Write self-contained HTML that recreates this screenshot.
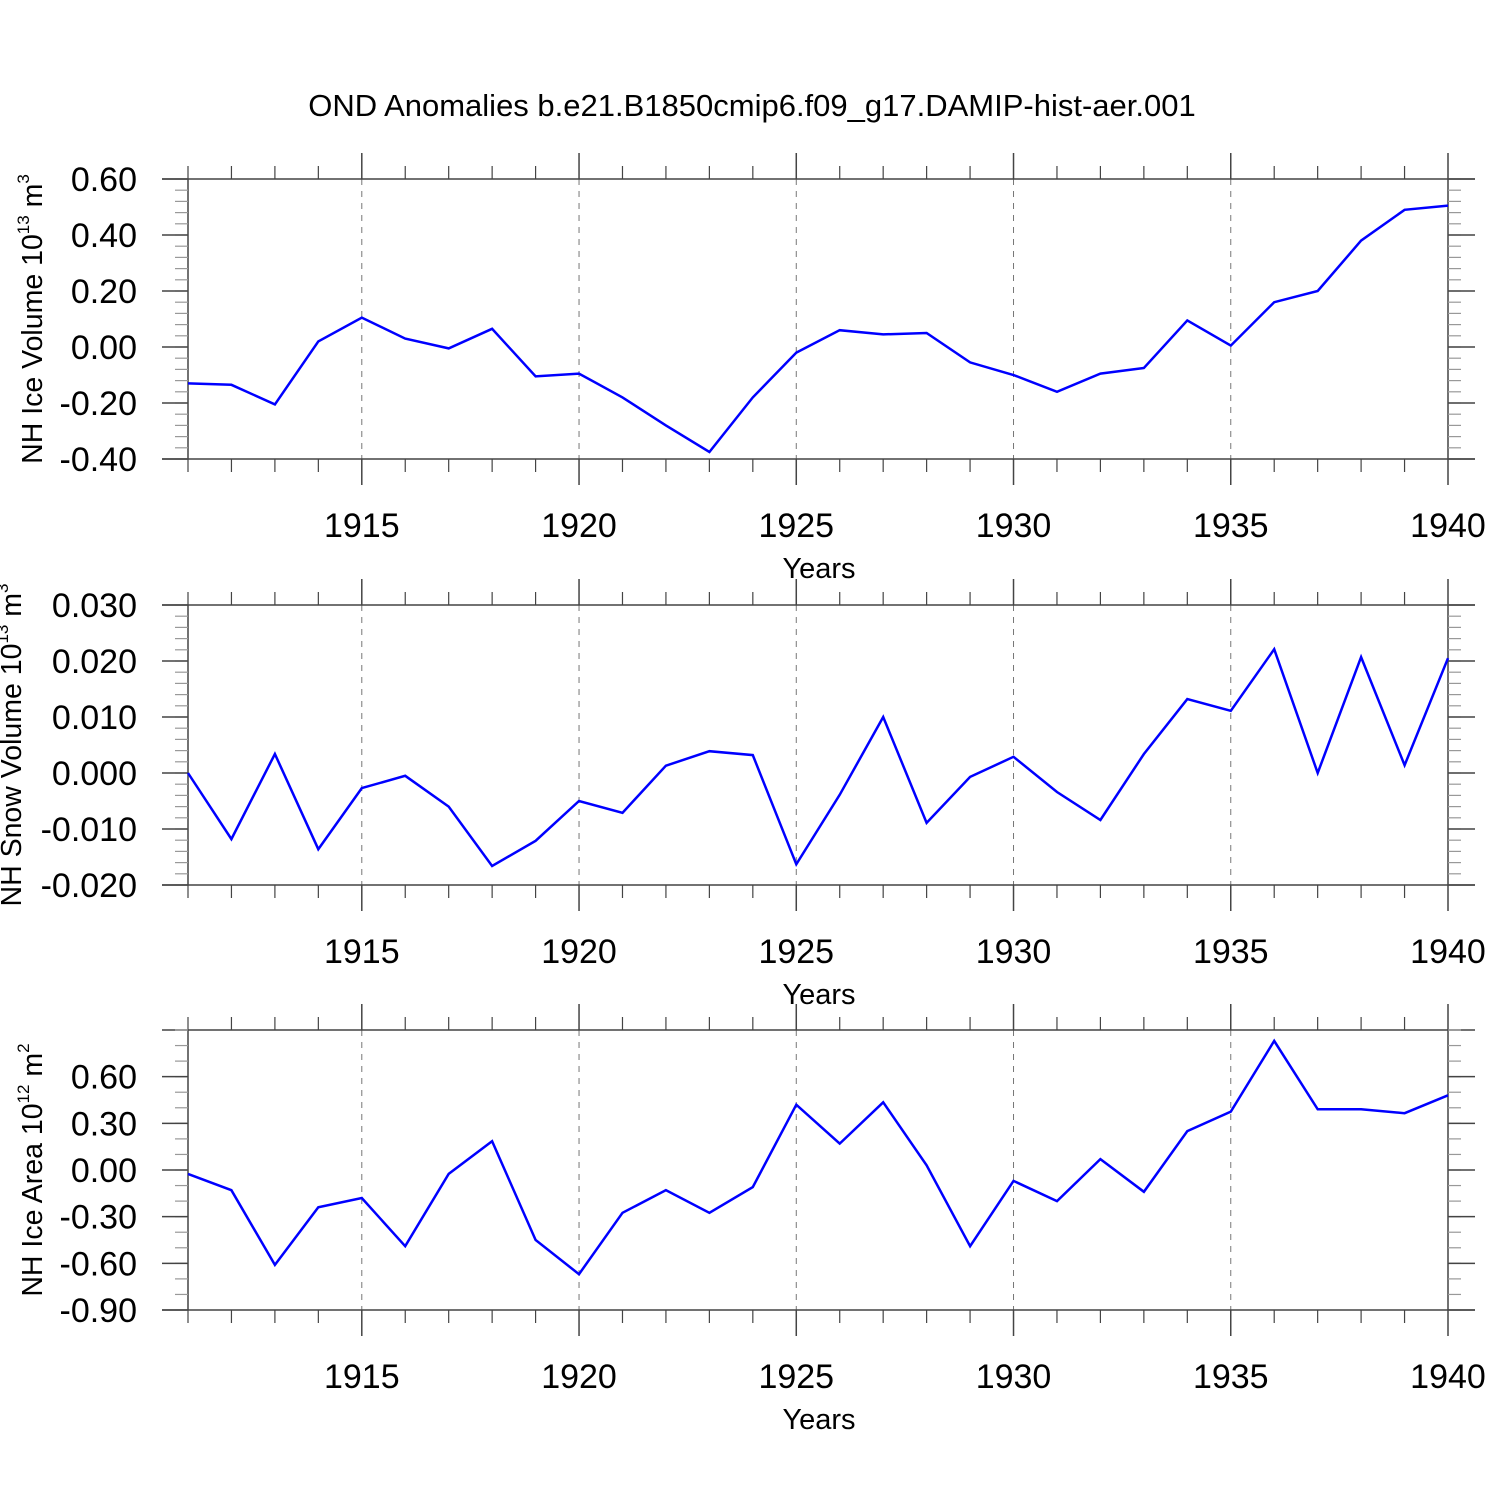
<!DOCTYPE html>
<html><head><meta charset="utf-8"><style>
html,body{margin:0;padding:0;background:#fff;}
svg text{font-family:"Liberation Sans",Arial,sans-serif;fill:#000;}
</style></head><body>
<svg id="chart" width="1500" height="1500" viewBox="0 0 1500 1500" xmlns="http://www.w3.org/2000/svg">
<text x="752" y="116" font-size="31" text-anchor="middle">OND Anomalies b.e21.B1850cmip6.f09_g17.DAMIP-hist-aer.001</text>
</svg>
<script>
const years = [];
for (let y = 1911; y <= 1940; y++) years.push(y);
const iceVolume = [-0.13,-0.135,-0.205,0.02,0.105,0.03,-0.005,0.065,-0.105,-0.095,-0.18,-0.28,-0.375,-0.18,-0.02,0.06,0.045,0.05,-0.055,-0.1,-0.16,-0.095,-0.075,0.095,0.005,0.16,0.2,0.38,0.49,0.505];
const snowVolume = [0,-0.0118,0.0034,-0.0136,-0.0027,-0.0005,-0.006,-0.0166,-0.0121,-0.005,-0.0071,0.0013,0.0039,0.0032,-0.0163,-0.0039,0.010,-0.0089,-0.0007,0.0029,-0.0034,-0.0084,0.0034,0.0132,0.0111,0.0221,0,0.0207,0.0014,0.0205];
const iceArea = [-0.025,-0.13,-0.61,-0.24,-0.18,-0.49,-0.025,0.185,-0.45,-0.67,-0.275,-0.13,-0.275,-0.11,0.42,0.17,0.435,0.03,-0.49,-0.07,-0.2,0.07,-0.14,0.25,0.375,0.83,0.39,0.39,0.365,0.48];
const iceVolumeTicks = ["-0.40","-0.20","0.00","0.20","0.40","0.60"];
const snowVolumeTicks = ["-0.020","-0.010","0.000","0.010","0.020","0.030"];
const iceAreaTicks = ["-0.90","-0.60","-0.30","0.00","0.30","0.60"];
const xTickLabels = ["1915","1920","1925","1930","1935","1940"];

const NS = "http://www.w3.org/2000/svg";
const svg = document.getElementById("chart");
const X0 = 188, X1 = 1448;
function xs(yr){ return X0 + (yr - 1911) / (1940 - 1911) * (X1 - X0); }
function mk(tag, attrs, parent){
  const e = document.createElementNS(NS, tag);
  for (const k in attrs) e.setAttribute(k, attrs[k]);
  (parent || svg).appendChild(e);
  return e;
}

const panels = [
  {top:179, vals:iceVolume, ticks:iceVolumeTicks, min:-0.4, max:0.6, minor:0.04, title:"NH Ice Volume 10", exp:"13", unit:" m", uexp:"3", tx:42, name:"ice-volume"},
  {top:605, vals:snowVolume, ticks:snowVolumeTicks, min:-0.02, max:0.03, minor:0.002, title:"NH Snow Volume 10", exp:"13", unit:" m", uexp:"3", tx:21, name:"snow-volume"},
  {top:1030, vals:iceArea, ticks:iceAreaTicks, min:-0.9, max:0.9, minor:0.1, title:"NH Ice Area 10", exp:"12", unit:" m", uexp:"2", tx:42, name:"ice-area"}
];

panels.forEach((p) => {
  const top = p.top, bot = top + 280;
  const g = mk("g", {});
  
  
  const ys = v => bot - (v - p.min) / (p.max - p.min) * 280;
  const ax = "#444";
  xTickLabels.forEach(t => {
    const x = xs(+t);
    if (+t < 1940) {
      const l = mk("line", {x1:x, x2:x, y1:top, y2:bot, stroke:"#777", "stroke-width":1, "stroke-dasharray":"6,6"}, g);
      
      
    }
  });
  mk("line", {x1:162, x2:1475, y1:top, y2:top, stroke:ax, "stroke-width":1.5}, g);
  mk("line", {x1:162, x2:1475, y1:bot, y2:bot, stroke:ax, "stroke-width":1.5}, g);
  years.forEach(yr => {
    const x = xs(yr);
    const major = yr % 5 === 0;
    const len = major ? 26 : 13;
    mk("line", {x1:x, x2:x, y1:top - len, y2:top, stroke:ax, "stroke-width":major ? 1.5 : 1.2}, g);
    mk("line", {x1:x, x2:x, y1:bot, y2:bot + len, stroke:ax, "stroke-width":major ? 1.5 : 1.2}, g);
  });
  mk("line", {x1:X0, x2:X0, y1:top, y2:bot, stroke:ax, "stroke-width":1.5}, g);
  mk("line", {x1:X1, x2:X1, y1:top, y2:bot, stroke:ax, "stroke-width":1.5}, g);
  const nMinor = Math.round((p.max - p.min) / p.minor);
  for (let i = 0; i <= nMinor; i++) {
    const y = ys(p.min + i * p.minor);
    mk("line", {x1:X0 - 13, x2:X0, y1:y, y2:y, stroke:"#999", "stroke-width":1.2}, g);
    mk("line", {x1:X1, x2:X1 + 13, y1:y, y2:y, stroke:"#999", "stroke-width":1.2}, g);
  }
  p.ticks.forEach(t => {
    const y = ys(+t);
    mk("line", {x1:162, x2:X0, y1:y, y2:y, stroke:ax, "stroke-width":1.5}, g);
    mk("line", {x1:X1, x2:1475, y1:y, y2:y, stroke:ax, "stroke-width":1.5}, g);
    const tx = mk("text", {x:137, y:y + 12, "font-size":34, "text-anchor":"end"}, g);
    tx.textContent = t;
    
    
  });
  xTickLabels.forEach(t => {
    const tx = mk("text", {x:xs(+t), y:bot + 78, "font-size":34, "text-anchor":"middle"}, g);
    tx.textContent = t;
    
    
  });
  const xt = mk("text", {x:819, y:bot + 119, "font-size":29, "text-anchor":"middle"}, g);
  xt.textContent = "Years";
  
  
  const cy = (top + bot) / 2;
  const yt = mk("text", {x:p.tx, y:cy, "font-size":28.5, "text-anchor":"middle", transform:`rotate(-90 ${p.tx} ${cy})`}, g);
  
  
  const s1 = mk("tspan", {}, yt); s1.textContent = p.title;
  const s2 = mk("tspan", {dy:-13, "font-size":17}, yt); s2.textContent = p.exp;
  const s3 = mk("tspan", {dy:13}, yt); s3.textContent = p.unit;
  const s4 = mk("tspan", {dy:-13, "font-size":17}, yt); s4.textContent = p.uexp;
  const pts = p.vals.map((v, i) => xs(years[i]).toFixed(1) + "," + ys(v).toFixed(1)).join(" ");
  const line = mk("polyline", {points:pts, fill:"none", stroke:"#0000ff", "stroke-width":2.5, "stroke-linejoin":"miter"}, g);
  
  
});
</script>
</body></html>
